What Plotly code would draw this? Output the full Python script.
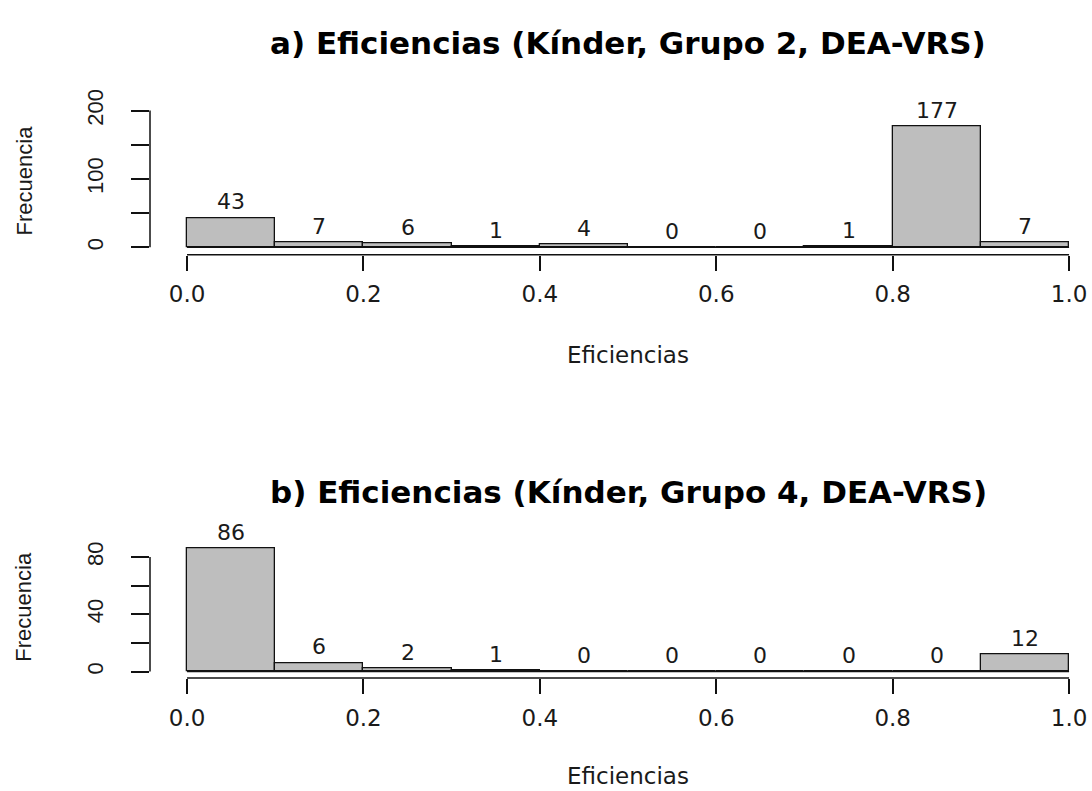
import plotly.graph_objects as go

# ---- data ----
breaks = [0.0, 0.1, 0.2, 0.3, 0.4, 0.5, 0.6, 0.7, 0.8, 0.9, 1.0]
mids = [0.05, 0.15, 0.25, 0.35, 0.45, 0.55, 0.65, 0.75, 0.85, 0.95]
counts_a = [43, 7, 6, 1, 4, 0, 0, 1, 177, 7]
counts_b = [86, 6, 2, 1, 0, 0, 0, 0, 0, 12]
title_a = "a) Eficiencias (Kínder, Grupo 2, DEA-VRS)"
title_b = "b) Eficiencias (Kínder, Grupo 4, DEA-VRS)"
x_ticks = [0.0, 0.2, 0.4, 0.6, 0.8, 1.0]
x_ticktext = ["0.0", "0.2", "0.4", "0.6", "0.8", "1.0"]
y_ticks_a = [0, 50, 100, 150, 200]
y_ticktext_a = ["0", "", "100", "", "200"]
y_ticks_b = [0, 20, 40, 60, 80]
y_ticktext_b = ["0", "", "40", "", "80"]
x_label = "Eficiencias"
y_label = "Frecuencia"

W, H = 1092, 791
HFONT = "DejaVu Sans, Arial, sans-serif"       # horizontal text (wide glyphs)
VFONT = "Liberation Sans, Arial, sans-serif"   # rotated text
TXT = "#1a1a1a"
LINE = "#111111"
BAR_FILL = "#BEBEBE"

fig = go.Figure()

for counts, xa, ya in [(counts_a, "x", "y"), (counts_b, "x2", "y2")]:
    fig.add_trace(go.Bar(
        x=mids, y=counts, width=0.1, xaxis=xa, yaxis=ya,
        marker=dict(color=BAR_FILL, line=dict(color=LINE, width=1.3)),
        showlegend=False, hoverinfo="skip",
    ))

def py(px):
    return (H - px) / H

xdom = [150 / W, 1.0]
xrange_ = [-0.042, 1.026]

xaxis_common = dict(
    range=xrange_, domain=xdom, showgrid=False, zeroline=False, showline=False,
    ticks="outside", ticklen=15, tickwidth=1.5, tickcolor=LINE,
    tickvals=x_ticks, ticktext=x_ticktext, ticklabelstandoff=4,
    tickfont=dict(family=HFONT, size=23, color=TXT),
)
yaxis_common = dict(
    showgrid=False, zeroline=False, showline=False,
    ticks="outside", ticklen=18, tickwidth=1.5, tickcolor=LINE,
    tickangle=-90, ticklabelstandoff=19,
    tickfont=dict(family=VFONT, size=22, color=TXT),
)

fig.update_layout(
    width=W, height=H, margin=dict(l=0, r=0, t=0, b=0),
    paper_bgcolor="white", plot_bgcolor="white", bargap=0,
    xaxis=dict(**xaxis_common, anchor="y"),
    yaxis=dict(**yaxis_common, anchor="x", domain=[py(250), py(90)],
               range=[-(250 - 242.5) / 0.69, (242.5 - 90) / 0.69],
               tickvals=y_ticks_a, ticktext=y_ticktext_a),
    xaxis2=dict(**xaxis_common, anchor="y2"),
    yaxis2=dict(**yaxis_common, anchor="x2", domain=[py(677), py(535)],
                range=[-(677 - 670.5) / 1.445, (670.5 - 535) / 1.445],
                tickvals=y_ticks_b, ticktext=y_ticktext_b),
)

shapes = []
for xa, ya, ymax in [("x", "y", 200), ("x2", "y2", 80)]:
    shapes.append(dict(type="line", xref=xa, yref=ya, x0=breaks[0], x1=breaks[-1],
                       y0=0, y1=0, line=dict(color=LINE, width=1.3)))
    shapes.append(dict(type="line", xref=xa, yref=ya + " domain", x0=x_ticks[0], x1=x_ticks[-1],
                       y0=0, y1=0, line=dict(color=LINE, width=1.5)))
    shapes.append(dict(type="line", xref=xa + " domain", yref=ya, x0=0, x1=0,
                       y0=0, y1=ymax, line=dict(color=LINE, width=1.5)))
fig.update_layout(shapes=shapes)

ann = []
# bar count labels
for counts, xa, ya in [(counts_a, "x", "y"), (counts_b, "x2", "y2")]:
    for m, c in zip(mids, counts):
        ann.append(dict(text=str(c), xref=xa, yref=ya, x=m, y=c, showarrow=False,
                        xanchor="center", yanchor="middle", yshift=16,
                        font=dict(family=HFONT, size=22, color=TXT)))
for title, xa, ty, xty, yty in [(title_a, "x", 36, 351, 175), (title_b, "x2", 489, 776, 605)]:
    ann.append(dict(text="<b>" + title + "</b>", xref=xa, x=0.5, yref="paper", y=py(ty),
                    xanchor="center", yanchor="middle", showarrow=False,
                    font=dict(family=HFONT, size=31, color="#000000")))
    ann.append(dict(text=x_label, xref=xa, x=0.5, yref="paper", y=py(xty),
                    xanchor="center", yanchor="middle", showarrow=False,
                    font=dict(family=HFONT, size=23, color=TXT)))
    ann.append(dict(text=y_label, xref="paper", x=24 / W, yref="paper", y=py(yty),
                    xanchor="center", yanchor="middle", showarrow=False, textangle=-90,
                    font=dict(family=VFONT, size=22, color=TXT)))
fig.update_layout(annotations=ann)

fig.write_html("out.html")
